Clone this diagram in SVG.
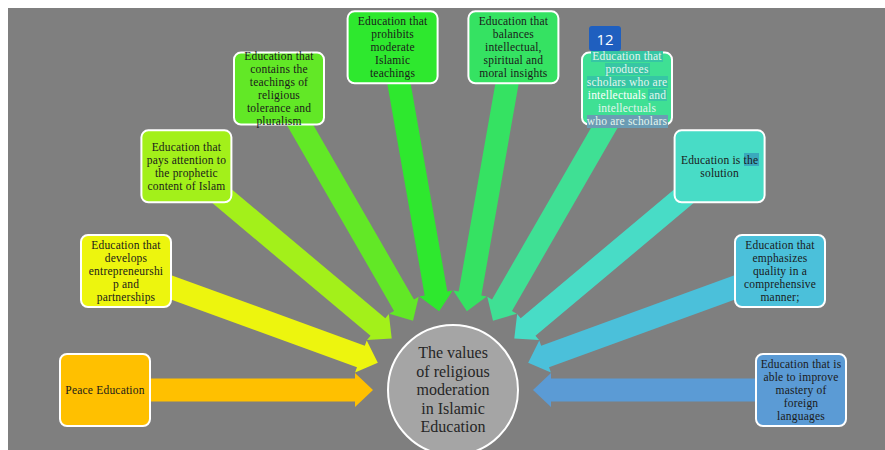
<svg xmlns="http://www.w3.org/2000/svg" width="885" height="450" viewBox="0 0 885 450">
<defs>
<path id="arr" d="M80,0 L98,-17 L98,-11.5 L348,-11.5 L348,11.5 L98,11.5 L98,17 Z"/>
</defs>
<style>
.box{stroke:#ffffff;stroke-width:2}
.t{font-family:"Liberation Serif","DejaVu Serif",serif;font-size:11.5px;fill:#1a1a1a;text-anchor:middle;dominant-baseline:central;letter-spacing:0.2px}
.tl{fill:#e4f5ee}
.c{font-family:"Liberation Serif","DejaVu Serif",serif;font-size:16px;fill:#262626;text-anchor:middle;dominant-baseline:central}
.hl{fill:#36c6a4}
</style>
<rect x="0" y="0" width="885" height="450" fill="#ffffff"/>
<rect x="8" y="8" width="877" height="442" fill="#7f7f7f"/>

<g id="connectors">
<use href="#arr" transform="translate(453 390) rotate(180)" fill="#ffc000"/>
<use href="#arr" transform="translate(453 390) rotate(200)" fill="#edf50e"/>
<use href="#arr" transform="translate(453 390) rotate(220)" fill="#a3f01a"/>
<use href="#arr" transform="translate(453 390) rotate(240)" fill="#62e826"/>
<use href="#arr" transform="translate(453 390) rotate(260)" fill="#2ee82e"/>
<use href="#arr" transform="translate(453 390) rotate(280)" fill="#35e262"/>
<use href="#arr" transform="translate(453 390) rotate(300)" fill="#3fe094"/>
<use href="#arr" transform="translate(453 390) rotate(320)" fill="#48dcc6"/>
<use href="#arr" transform="translate(453 390) rotate(340)" fill="#4bc0da"/>
<use href="#arr" transform="translate(453 390) rotate(360)" fill="#5b9bd5"/>
</g>

<g id="center">
<circle cx="453" cy="390" r="65" fill="#a5a5a5" stroke="#ffffff" stroke-width="2"/>
<text class="c" x="453" y="352">The values</text>
<text class="c" x="453" y="371">of religious</text>
<text class="c" x="453" y="389.5">moderation</text>
<text class="c" x="453" y="408">in Islamic</text>
<text class="c" x="453" y="426.5">Education</text>
</g>

<g id="peace">
<rect class="box" x="60" y="354" width="90" height="72" rx="7" fill="#ffc000"/>
<text class="t" x="105" y="390">Peace Education</text>
</g>

<g id="entrepreneurship">
<rect class="box" x="81" y="235" width="90" height="72" rx="7" fill="#edf50e"/>
<text class="t" x="126" y="245">Education that</text>
<text class="t" x="126" y="258">develops</text>
<text class="t" x="126" y="271">entrepreneurshi</text>
<text class="t" x="126" y="284">p and</text>
<text class="t" x="126" y="297">partnerships</text>
</g>

<g id="prophetic">
<rect class="box" x="141.4" y="130.3" width="90" height="72" rx="7" fill="#a3f01a"/>
<text class="t" x="186.4" y="146.8">Education that</text>
<text class="t" x="186.4" y="159.8">pays attention to</text>
<text class="t" x="186.4" y="172.8">the prophetic</text>
<text class="t" x="186.4" y="185.8">content of Islam</text>
</g>

<g id="tolerance">
<rect class="box" x="234" y="52.6" width="90" height="72" rx="7" fill="#62e826"/>
<text class="t" x="279" y="56">Education that</text>
<text class="t" x="279" y="69">contains the</text>
<text class="t" x="279" y="82">teachings of</text>
<text class="t" x="279" y="95">religious</text>
<text class="t" x="279" y="108">tolerance and</text>
<text class="t" x="279" y="121">pluralism</text>
</g>

<g id="prohibits">
<rect class="box" x="347.6" y="11.3" width="90" height="72" rx="7" fill="#2ee82e"/>
<text class="t" x="392.6" y="21.3">Education that</text>
<text class="t" x="392.6" y="34.3">prohibits</text>
<text class="t" x="392.6" y="47.3">moderate</text>
<text class="t" x="392.6" y="60.3">Islamic</text>
<text class="t" x="392.6" y="73.3">teachings</text>
</g>

<g id="balances">
<rect class="box" x="468.4" y="11.3" width="90" height="72" rx="7" fill="#35e262"/>
<text class="t" x="513.4" y="21.3">Education that</text>
<text class="t" x="513.4" y="34.3">balances</text>
<text class="t" x="513.4" y="47.3">intellectual,</text>
<text class="t" x="513.4" y="60.3">spiritual and</text>
<text class="t" x="513.4" y="73.3">moral insights</text>
</g>

<g id="scholars">
<rect class="box" x="582" y="52.6" width="90" height="72" rx="7" fill="#3fe094"/>
<rect class="hl" x="591" y="51" width="72" height="11"/>
<rect class="hl" x="605" y="63" width="45" height="12"/>
<rect class="hl" x="587" y="76" width="81" height="12"/>
<rect class="hl" x="648" y="89" width="19" height="12"/>
<rect x="587" y="115" width="81" height="13" fill="#6b9cb4"/>
<text class="t tl" x="627" y="56">Education that</text>
<text class="t tl" x="627" y="69">produces</text>
<text class="t tl" x="627" y="82">scholars who are</text>
<text class="t tl" x="627" y="95"><tspan fill="#ffffff">intellectuals</tspan> and</text>
<text class="t tl" x="627" y="108">intellectuals</text>
<text class="t tl" x="627" y="121">who are scholars</text>
</g>

<g id="badge">
<rect x="589" y="26" width="32" height="25" rx="3" fill="#1f5fbf"/>
<text x="605" y="39" fill="#ffffff" font-family="'Open Sans','Noto Sans',sans-serif" font-size="15" text-anchor="middle" dominant-baseline="central">12</text>
</g>

<g id="solution">
<rect class="box" x="674.6" y="130.3" width="90" height="72" rx="7" fill="#48dcc6"/>
<rect x="744" y="153" width="15" height="13" fill="#3aa9bd"/>
<text class="t" x="719.6" y="159.8">Education is the</text>
<text class="t" x="719.6" y="172.8">solution</text>
</g>

<g id="quality">
<rect class="box" x="735" y="235" width="90" height="72" rx="7" fill="#4bc0da"/>
<text class="t" x="780" y="245">Education that</text>
<text class="t" x="780" y="258">emphasizes</text>
<text class="t" x="780" y="271">quality in a</text>
<text class="t" x="780" y="284">comprehensive</text>
<text class="t" x="780" y="297">manner;</text>
</g>

<g id="languages">
<rect class="box" x="756" y="354" width="90" height="72" rx="7" fill="#5b9bd5"/>
<text class="t" x="801" y="364">Education that is</text>
<text class="t" x="801" y="377">able to improve</text>
<text class="t" x="801" y="390">mastery of</text>
<text class="t" x="801" y="403">foreign</text>
<text class="t" x="801" y="416">languages</text>
</g>
</svg>
